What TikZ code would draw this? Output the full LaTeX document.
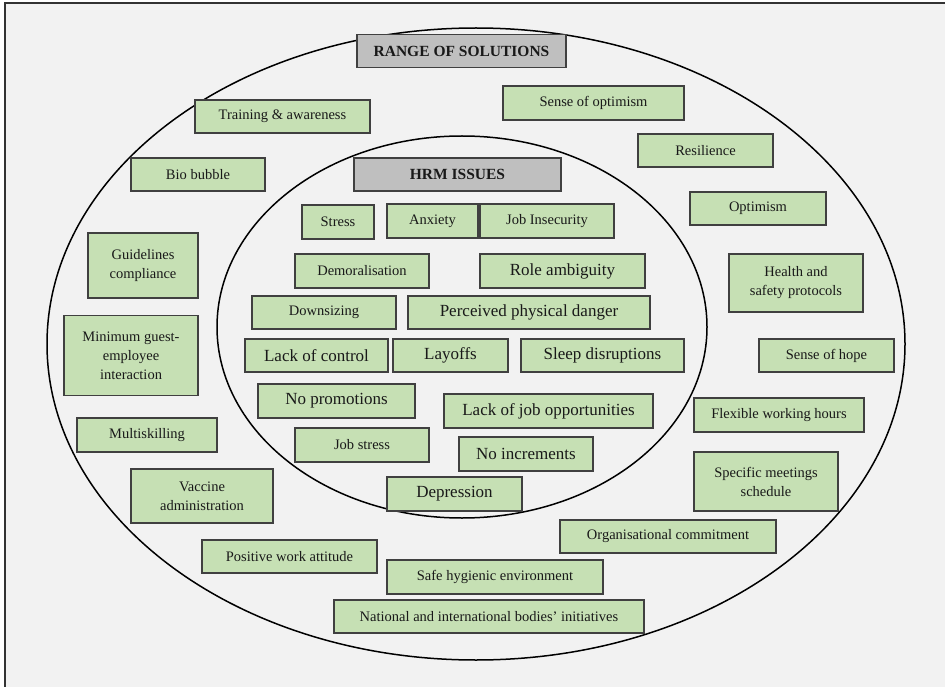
\documentclass[tikz,border=0pt]{standalone}
\usepackage{fontspec}
\setmainfont{Liberation Serif}
\definecolor{boxgreen}{HTML}{C6E0B4}
\definecolor{titlegray}{HTML}{BFBFBF}
\definecolor{bggray}{HTML}{F2F2F2}
\tikzset{
    box/.style={
        draw=black!75,
        line width=1.1pt,
        fill=boxgreen,
        align=center,
        inner sep=2pt,
        minimum height=33pt,
        text=black!90,
        font=\fontsize{14.5}{19}\selectfont
    },
    bigtext/.style={font=\fontsize{17}{20}\selectfont},
    titlebox/.style={box, fill=titlegray, font=\fontsize{15.5}{18}\selectfont\bfseries}
}
\begin{document}
\begin{tikzpicture}[x=1pt, y=-1pt]
    \useasboundingbox (0,0) rectangle (945,687);
    % Hintergrund und Rahmen
    \fill[white] (0,0) rectangle (945,687);
    \fill[bggray] (5,3) rectangle (945,687);
    \draw[black!80, line width=1.8pt] (5,687) -- (5,3) -- (945,3);
    % Ellipsen
    \draw[line width=1.5pt] (476,344) ellipse [x radius=429pt, y radius=316pt];
    \draw[line width=1.5pt] (462,327) ellipse [x radius=245pt, y radius=191pt];
    % Titel
    \node[titlebox, minimum width=209pt] (solutions) at (461.5,51) {RANGE OF SOLUTIONS};
    \node[titlebox, minimum width=207pt] (hrm) at (457.5,174.5) {HRM ISSUES};
    % Innerer Ring: Probleme
    \node[box, minimum width=72pt, minimum height=34pt] (stress) at (338,222) {Stress};
    \node[box, minimum width=91pt, minimum height=34pt] (anxiety) at (432.5,221) {Anxiety};
    \node[box, minimum width=134pt, minimum height=34pt] (insecurity) at (547,221) {Job Insecurity};
    \node[box, minimum width=134pt, minimum height=34pt] (demoral) at (362,271) {Demoralisation};
    \node[box, bigtext, minimum width=165pt, minimum height=34pt] (role) at (562.5,271) {Role ambiguity};
    \node[box, minimum width=144pt] (downsize) at (324,312.5) {Downsizing};
    \node[box, bigtext, minimum width=242pt] (danger) at (529,312.5) {Perceived physical danger};
    \node[box, bigtext, minimum width=143pt] (control) at (316.5,355.5) {Lack of control};
    \node[box, bigtext, minimum width=115pt] (layoffs) at (450.5,355.5) {Layoffs};
    \node[box, bigtext, minimum width=163pt] (sleep) at (602.5,355.5) {Sleep disruptions};
    \node[box, bigtext, minimum width=157pt, minimum height=34pt] (promo) at (336.5,401) {No promotions};
    \node[box, bigtext, minimum width=209pt, minimum height=34pt] (jobopp) at (548.5,411) {Lack of job opportunities};
    \node[box, minimum width=134pt, minimum height=34pt] (jobstress) at (362,445) {Job stress};
    \node[box, bigtext, minimum width=134pt, minimum height=34pt] (increm) at (526,454) {No increments};
    \node[box, bigtext, minimum width=135pt, minimum height=34pt] (depress) at (454.5,494) {Depression};
    % Aeusserer Ring: Loesungen
    \node[box, minimum width=175pt] (training) at (282.5,116.5) {Training \& awareness};
    \node[box, minimum width=181pt, minimum height=34pt] (senseopt) at (593.5,103) {Sense of optimism};
    \node[box, minimum width=135pt] (resil) at (705.5,150.5) {Resilience};
    \node[box, minimum width=134pt] (biobubble) at (198,174.5) {Bio bubble};
    \node[box, minimum width=136pt] (optim) at (758,208.5) {Optimism};
    \node[box, minimum width=110pt, minimum height=65pt] (guide) at (143,265.5) {Guidelines\\compliance};
    \node[box, minimum width=134pt, minimum height=58pt] (health) at (796,283) {Health and\\safety protocols};
    \node[box, minimum width=134pt, minimum height=80pt] (minguest) at (131,355.5) {Minimum guest-\\employee\\interaction};
    \node[box, minimum width=135pt] (hope) at (826.5,355.5) {Sense of hope};
    \node[box, minimum width=170pt, minimum height=34pt] (flexhours) at (779,415) {Flexible working hours};
    \node[box, minimum width=140pt, minimum height=34pt] (multiskill) at (147,435) {Multiskilling};
    \node[box, minimum width=144pt, minimum height=59pt] (meetings) at (766,481.5) {Specific meetings\\schedule};
    \node[box, minimum width=142pt, minimum height=54pt] (vaccine) at (202,496) {Vaccine\\administration};
    \node[box, minimum width=216pt] (orgcommit) at (668,536.5) {Organisational commitment};
    \node[box, minimum width=175pt] (attitude) at (289.5,556.5) {Positive work attitude};
    \node[box, minimum width=216pt, minimum height=34pt] (hygiene) at (495,577) {Safe hygienic environment};
    \node[box, minimum width=310pt] (bodies) at (489,616.5) {National and international bodies’ initiatives};
\end{tikzpicture}
\end{document}
